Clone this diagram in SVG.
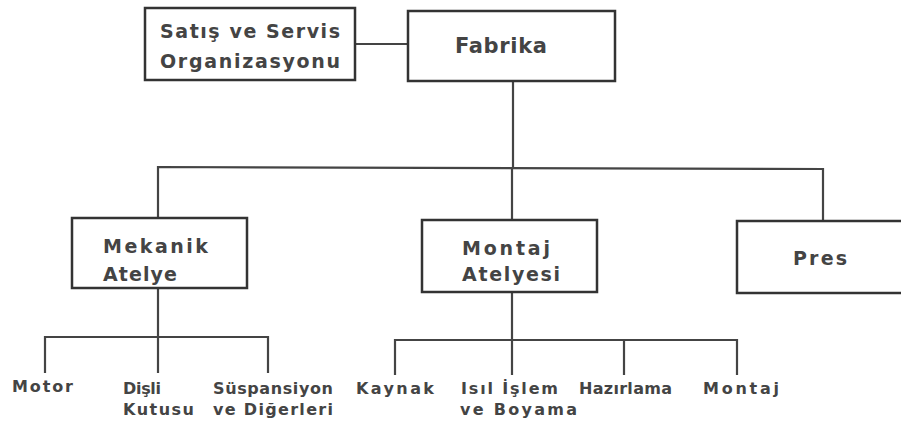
<svg xmlns="http://www.w3.org/2000/svg" width="901" height="427" viewBox="0 0 901 427">
<style>
.box{fill:#fff;stroke:#333;stroke-width:2.5}
.ln{fill:none;stroke:#444;stroke-width:2.2}
text{font-family:"DejaVu Sans","Liberation Sans",sans-serif;font-weight:bold;fill:#444}
.b{font-size:19px}
.f{font-size:21px}
.s{font-size:16px}
</style>
<rect width="901" height="427" fill="#fff"/>
<g id="connectors">
<path class="ln" d="M355 44H408"/>
<path class="ln" d="M513 80V168"/>
<path class="ln" d="M158 218V167L823 169V221"/>
<path class="ln" d="M512 168V220"/>
<path class="ln" d="M158 288V373"/>
<path class="ln" d="M45 373V337H268V373"/>
<path class="ln" d="M512 293V375"/>
<path class="ln" d="M395 375V340H737V375"/>
<path class="ln" d="M624 340V375"/>
</g>
<g id="satis"><rect class="box" x="145" y="8" width="210" height="72"/>
<text class="b" x="160" y="38" textLength="180" lengthAdjust="spacing">Satış ve Servis</text>
<text class="b" x="160" y="68" textLength="180" lengthAdjust="spacing">Organizasyonu</text></g>
<g id="fabrika"><rect class="box" x="408" y="11" width="207" height="70"/>
<text class="f" x="455" y="53" textLength="92" lengthAdjust="spacing">Fabrika</text></g>
<g id="mekanik"><rect class="box" x="72" y="218" width="175" height="70"/>
<text class="b" x="103" y="253" textLength="105" lengthAdjust="spacing">Mekanik</text>
<text class="b" x="103" y="281" textLength="74" lengthAdjust="spacing">Atelye</text></g>
<g id="montaj-atelyesi"><rect class="box" x="422" y="220" width="175" height="72"/>
<text class="b" x="462" y="255" textLength="88" lengthAdjust="spacing">Montaj</text>
<text class="b" x="462" y="281" textLength="98" lengthAdjust="spacing">Atelyesi</text></g>
<g id="pres"><rect class="box" x="737" y="221" width="180" height="72"/>
<text class="b" x="793" y="265" textLength="54" lengthAdjust="spacing">Pres</text></g>
<g id="motor"><text class="s" x="12" y="392" textLength="61" lengthAdjust="spacing">Motor</text></g>
<g id="disli"><text class="s" x="123" y="394" textLength="38" lengthAdjust="spacing">Dişli</text>
<text class="s" x="123" y="415" textLength="71" lengthAdjust="spacing">Kutusu</text></g>
<g id="suspansiyon"><text class="s" x="213" y="394" textLength="120" lengthAdjust="spacing">Süspansiyon</text>
<text class="s" x="213" y="415" textLength="120" lengthAdjust="spacing">ve Diğerleri</text></g>
<g id="kaynak"><text class="s" x="356" y="394" textLength="78" lengthAdjust="spacing">Kaynak</text></g>
<g id="isil"><text class="s" x="461" y="394" textLength="97" lengthAdjust="spacing">Isıl İşlem</text>
<text class="s" x="460" y="415" textLength="117" lengthAdjust="spacing">ve Boyama</text></g>
<g id="hazirlama"><text class="s" x="579" y="394" textLength="93" lengthAdjust="spacing">Hazırlama</text></g>
<g id="montaj"><text class="s" x="703" y="394" textLength="76" lengthAdjust="spacing">Montaj</text></g>
</svg>
